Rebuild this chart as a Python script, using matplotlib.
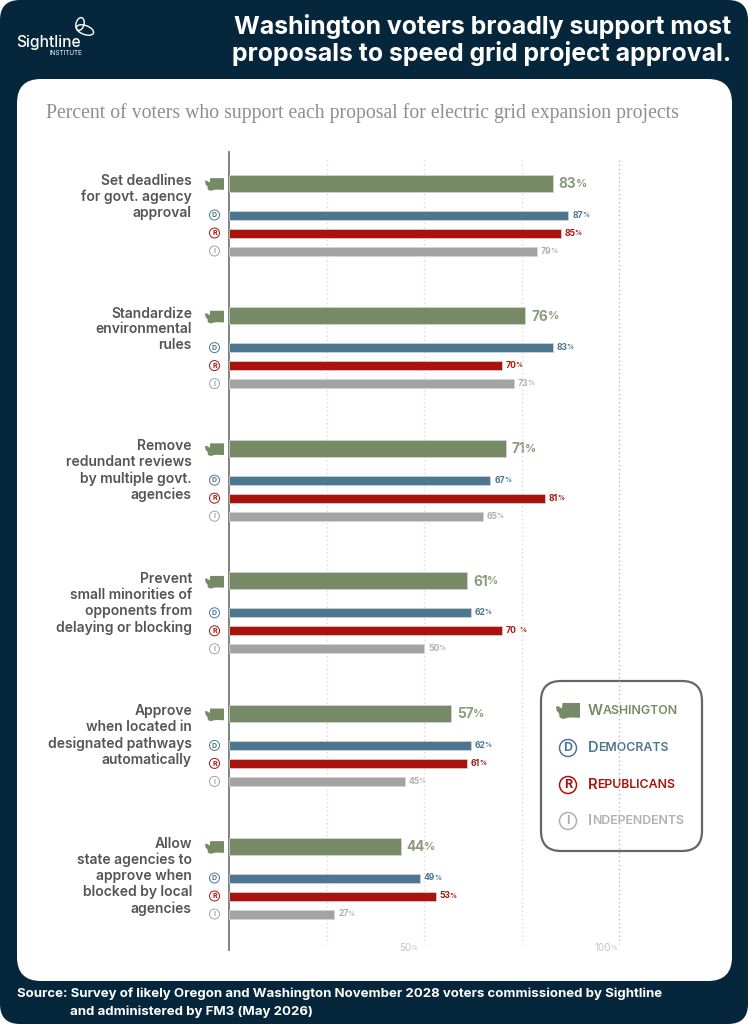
import matplotlib
matplotlib.use("Agg")
import matplotlib.pyplot as plt
from matplotlib.patches import FancyBboxPatch, Polygon, Circle, Ellipse

# ============================
# 1. Chart data
# ============================
proposals = [
    "Set deadlines\nfor govt. agency\napproval",
    "Standardize\nenvironmental\nrules",
    "Remove\nredundant reviews\nby multiple govt.\nagencies",
    "Prevent\nsmall minorities of\nopponents from\ndelaying or blocking",
    "Approve\nwhen located in\ndesignated pathways\nautomatically",
    "Allow\nstate agencies to\napprove when\nblocked by local\nagencies",
]
washington = [83, 76, 71, 61, 57, 44]
democrats = [87, 83, 67, 62, 62, 49]
republicans = [85, 70, 81, 70, 61, 53]
independents = [79, 73, 65, 50, 45, 27]
grid_ticks = [25, 50, 75, 100]
tick_labels = {50: "50", 100: "100"}
legend_names = ["Washington", "Democrats", "Republicans", "Independents"]

title = "Washington voters broadly support most\nproposals to speed grid project approval."
subtitle = "Percent of voters who support each proposal for electric grid expansion projects"
source_1 = "Source: Survey of likely Oregon and Washington November 2028 voters commissioned by Sightline"
source_2 = "and administered by FM3 (May 2026)"

NAVY = "#06273b"
GREEN = "#778a66"
BLUE = "#4d7690"
RED = "#a8130b"
GRAY = "#a3a3a3"
TEXT = "#555555"
SANS = "Inter"

plt.rcParams["font.family"] = [SANS, "DejaVu Sans"]

# ============================
# 2. Page (pixel coordinates)
# ============================
fig = plt.figure(figsize=(7.48, 10.24), dpi=100, facecolor="white")
page = fig.add_axes([0, 0, 1, 1])
page.set_xlim(0, 748)
page.set_ylim(1024, 0)
page.axis("off")

page.add_patch(FancyBboxPatch((0, 0), 748, 1024, boxstyle="round,pad=0,rounding_size=20",
                              fc=NAVY, ec="none"))
page.add_patch(FancyBboxPatch((17, 79), 715, 902, boxstyle="round,pad=0,rounding_size=24",
                              fc="white", ec="none"))

page.text(731, 40, title, color="white", fontsize=17.9, fontweight="bold", ha="right",
          va="center", linespacing=1.14)
page.text(46, 113, subtitle, color="#8f8f8f", fontsize=14.2, family="Liberation Serif",
          va="center")
page.text(17, 994, source_1, color="white", fontsize=9.53, fontweight="bold", va="center")
page.text(70, 1012, source_2, color="white", fontsize=9.53, fontweight="bold", va="center")

# logo
page.add_patch(Ellipse((80, 24), 8, 13, angle=15, fc="none", ec="white", lw=1.0))
page.add_patch(Ellipse((85, 30), 18, 9, angle=20, fc="none", ec="white", lw=1.0))
page.text(48.5, 43, "Sightline", color="white", fontsize=11.2, fontweight="medium", ha="center",
          va="center")
page.text(66, 53, "INSTITUTE", color="white", fontsize=4.6, ha="center", va="center")


def wa_icon(cx, cy, w, color, z=4):
    # rough outline of the state, in fractions of the icon size
    outline = [(0.0, 0.2), (0.12, 0.22), (0.25, 0.35), (0.27, 0.0), (1.0, 0.0), (1.0, 0.92),
               (0.62, 0.9), (0.45, 0.93), (0.3, 1.0), (0.15, 0.9), (0.13, 0.65), (0.03, 0.5)]
    h = w * 0.67
    pts = [(cx - w / 2 + x * w, cy - h / 2 + y * h) for x, y in outline]
    page.add_patch(Polygon(pts, closed=True, fc=color, ec="none", zorder=z))


def party_icon(cx, cy, r, letter, color, size, lw, z=4):
    page.add_patch(Circle((cx, cy), r, fc="white", ec=color, lw=lw, zorder=z))
    page.text(cx, cy + 0.2, letter, color=color, fontsize=size, fontweight="bold", ha="center",
              va="center", zorder=z + 1)


# ============================
# 3. Bars
# ============================
AX_LEFT, AX_RIGHT, AX_TOP, AX_BOTTOM = 229, 619, 152, 950
ax = fig.add_axes([AX_LEFT / 748, 1 - AX_BOTTOM / 1024, (AX_RIGHT - AX_LEFT) / 748,
                   (AX_BOTTOM - AX_TOP) / 1024])
ax.patch.set_alpha(0)
ax.set_xlim(0, 100)
ax.set_ylim(AX_BOTTOM, AX_TOP)
for side in ["top", "right", "bottom"]:
    ax.spines[side].set_visible(False)
ax.spines["left"].set_color("#777777")
ax.spines["left"].set_linewidth(1.3)
ax.set_xticks([])
ax.set_yticks([])

for t in grid_ticks:
    color = "#bbbbbb" if t == 100 else "#d9d9d9"
    ax.plot([t, t], [160, 944], color=color, lw=1.0, ls=(0, (1, 2)), zorder=0, clip_on=False)

GROUP_TOP = 183
GROUP_STEP = 132.6
series = [
    (washington, GREEN, 0, 17),
    (democrats, BLUE, 32, 9),
    (republicans, RED, 50, 9),
    (independents, GRAY, 68, 9),
]
label_colors = ["#8a9c7b", BLUE, RED, "#b0b0b0"]


def value_label(x_px, y_px, value, color, size, pct_size, gap=0.0):
    num = page.text(x_px, y_px, str(value), color=color, fontsize=size, fontweight="bold",
                    va="center", zorder=5)
    box = num.get_window_extent(fig.canvas.get_renderer())
    page.text(box.x1 + gap, y_px - 0.3, "%", color=color, fontsize=pct_size, fontweight="bold",
              va="center", zorder=5)


for i, text in enumerate(proposals):
    base = GROUP_TOP + GROUP_STEP * i
    page.text(192, base - 9, text, color=TEXT, fontsize=10, fontweight="semibold", ha="right",
              va="top", linespacing=1.17)
    for j, (values, color, offset, height) in enumerate(series):
        y = base + offset
        ax.barh(y, values[i], height=height, color=color, edgecolor="#d5d5d5", linewidth=0.5,
                zorder=3)
        end = AX_LEFT + values[i] * (AX_RIGHT - AX_LEFT) / 100
        if j == 0:
            value_label(end + 6, y + 1, values[i], label_colors[j], 9.8, 8, -0.6)
            wa_icon(214.5, y + 1.5, 19, color)
        else:
            gap = 3 if values is republicans and i == 3 else -1
            value_label(end + 4, y, values[i], label_colors[j], 6.2, 5, gap)
            party_icon(214.5, y, 5, "DRI"[j - 1], color, 5, 0.7)

for t, lab in tick_labels.items():
    x = AX_LEFT + t * (AX_RIGHT - AX_LEFT) / 100
    right = x - 7 if t == 50 else x - 2
    page.text(right - 5.5, 948, lab, color="#c4c4c4", fontsize=7, ha="right", va="center")
    page.text(right, 948, "%", color="#c4c4c4", fontsize=5, ha="right", va="center")

# ============================
# 4. Legend
# ============================
page.add_patch(FancyBboxPatch((541, 681), 161, 170, boxstyle="round,pad=0,rounding_size=20",
                              fc="white", ec="#666666", lw=1.6, zorder=6))
legend_y = [711, 748, 785, 821]
legend_colors = [GREEN, BLUE, RED, "#b0b0b0"]
for name, y, color in zip(legend_names, legend_y, legend_colors):
    first = page.text(588, y, name[0], color=color, fontsize=10.6, fontweight="semibold",
                      va="center", zorder=7)
    box = first.get_window_extent(fig.canvas.get_renderer())
    page.text(box.x1, y + 0.3, name[1:].upper(), color=color, fontsize=8.9, fontweight="semibold",
              va="center", zorder=7)
    if name == "Washington":
        wa_icon(568, y, 24, color, z=7)
    else:
        party_icon(568, y, 8.5, name[0], color, 9, 1.1, z=7)

fig.savefig("out.png", dpi=100, facecolor="white")
